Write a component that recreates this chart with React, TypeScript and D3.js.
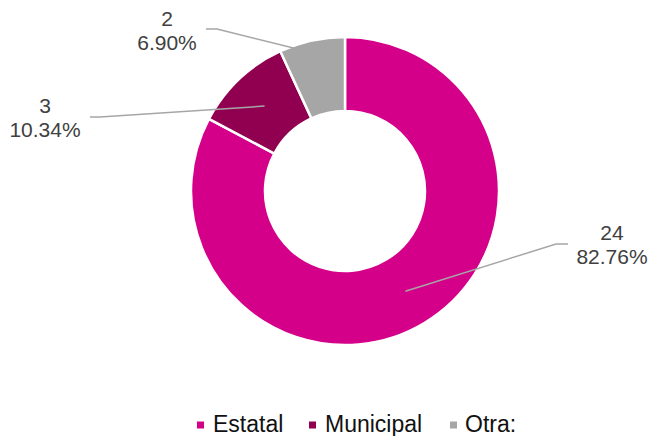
import React from "react";
import * as d3 from "d3";

const categories = ["Estatal", "Municipal", "Otra:"];
const values = [24, 3, 2];
const percentLabels = ["82.76%", "10.34%", "6.90%"];
const colors = ["#D5008A", "#910050", "#A6A6A6"];

const W = 649;
const H = 436;
const cx = 345;
const cy = 191;
const outerR = 154;
const innerR = 80;

// label layout: text center, first baseline, elbow points (absolute)
const labelLayout = [
  { tx: 612, ty: 240, elbow: [[568, 244], [556, 244]], anchorR: 117 },
  { tx: 45, ty: 113, elbow: [[90, 117], [100, 117]], anchorR: 117 },
  { tx: 167, ty: 26, elbow: [[206, 29], [217, 29]], anchorR: 141 },
];

const legendLayout = [
  { sx: 197, tx: 213 },
  { sx: 309, tx: 325 },
  { sx: 450, tx: 465 },
];

export default function App() {
  const pie = d3.pie<number>().sort(null).value((d) => d);
  const arcs = pie(values);
  const arcGen = d3.arc<d3.PieArcDatum<number>>().innerRadius(innerR).outerRadius(outerR);

  return (
    <svg
      width={W}
      height={H}
      style={{ position: "absolute", left: 0, top: 0, background: "#fff" }}
      fontFamily="'Liberation Sans', Arial, sans-serif"
    >
      <g transform={`translate(${cx},${cy})`}>
        {arcs.map((a, i) => (
          <path key={i} d={arcGen(a) || ""} fill={colors[i]} stroke="#fff" strokeWidth={2.5} />
        ))}
      </g>
      {arcs.map((a, i) => {
        const L = labelLayout[i];
        const mid = (a.startAngle + a.endAngle) / 2;
        const ax = cx + L.anchorR * Math.sin(mid);
        const ay = cy - L.anchorR * Math.cos(mid);
        const pts = [...L.elbow, [ax, ay]];
        const d = d3.line()(pts as [number, number][]) || "";
        return (
          <g key={i}>
            <path d={d} fill="none" stroke="#A6A6A6" strokeWidth={1.5} />
            <text x={L.tx} y={L.ty} textAnchor="middle" fontSize={21} fill="#404040">
              {values[i]}
            </text>
            <text x={L.tx} y={L.ty + 24} textAnchor="middle" fontSize={21} fill="#404040">
              {percentLabels[i]}
            </text>
          </g>
        );
      })}
      {categories.map((c, i) => (
        <g key={c}>
          <rect x={legendLayout[i].sx} y={421.5} width={7} height={7} fill={colors[i]} />
          <text x={legendLayout[i].tx} y={432} fontSize={23} fill="#111">
            {c}
          </text>
        </g>
      ))}
    </svg>
  );
}
